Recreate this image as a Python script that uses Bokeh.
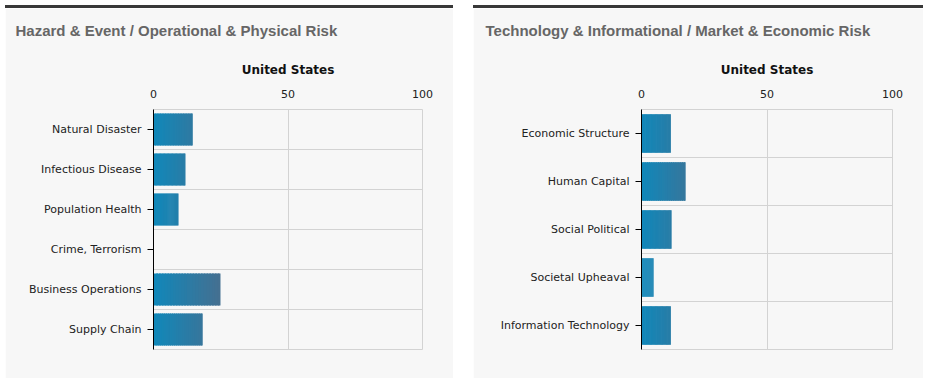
from bokeh.plotting import figure
from bokeh.models import Range1d, FixedTicker, Title, Div
from bokeh.layouts import row, column
from bokeh.embed import file_html
from bokeh.resources import INLINE

# ---------------- data ----------------
country = "United States"
x_ticks = [0, 50, 100]

left_title = "Hazard & Event / Operational & Physical Risk"
left_categories = ["Natural Disaster", "Infectious Disease", "Population Health",
                   "Crime, Terrorism", "Business Operations", "Supply Chain"]
left_values = [14.6, 11.9, 9.3, 0.0, 24.9, 18.3]

right_title = "Technology & Informational / Market & Economic Risk"
right_categories = ["Economic Structure", "Human Capital", "Social Political",
                    "Societal Upheaval", "Information Technology"]
right_values = [11.7, 17.6, 12.0, 4.8, 11.7]

# ---------------- styles ----------------
BG = "#f7f7f7"
C0 = (16, 136, 186)
C1 = (80, 106, 136)
GRAD_SPAN = 30.0
N_SLICES = 24


def grad_color(x):
    t = max(0.0, min(1.0, x / GRAD_SPAN))
    r, g, b = (round(a + (b_ - a) * t) for a, b_ in zip(C0, C1))
    return "#%02x%02x%02x" % (r, g, b)


def make_panel(title, cats, vals, fig_w, frame_left, title_x):
    n = len(cats)
    centers = [n - i - 0.5 for i in range(n)]
    frame_right_border = 31
    p = figure(frame_width=fig_w - frame_left - frame_right_border, frame_height=240,
               x_range=Range1d(0, 100), y_range=Range1d(0, n),
               x_axis_location="above", output_backend="svg", toolbar_location=None,
               min_border_left=frame_left, min_border_right=frame_right_border,
               min_border_top=101, min_border_bottom=29,
               background_fill_color=BG, border_fill_color=BG,
               outline_line_color="#d3d3d3", title=title)

    # gradient bars, built as overlapping thin slices of each bar
    ys, lefts, rights, colors = [], [], [], []
    for yc, v in zip(centers, vals):
        if v <= 0:
            continue
        for k in range(N_SLICES):
            l = v * k / N_SLICES
            r = min(v, v * (k + 1.6) / N_SLICES)
            ys.append(yc)
            lefts.append(l)
            rights.append(r)
            colors.append(grad_color(v * (k + 0.5) / N_SLICES))
    p.hbar(y=ys, left=lefts, right=rights, height=0.8,
           fill_color=colors, line_color=None)

    # title
    p.title.align = "left"
    p.title.offset = title_x - frame_left
    p.title.text_font = "Liberation Sans"
    p.title.text_font_size = "15px"
    p.title.text_font_style = "bold"
    p.title.text_color = "#666666"
    p.title.standoff = 23

    sub = Title(text=country, align="center", text_font="DejaVu Sans",
                text_font_size="12px", text_font_style="bold", text_color="#111111",
                standoff=20)
    p.add_layout(sub, "above")

    # top axis
    xa = p.xaxis[0]
    xa.ticker = FixedTicker(ticks=x_ticks)
    xa.axis_line_color = None
    xa.major_tick_line_color = None
    xa.minor_tick_line_color = None
    xa.major_label_standoff = 6
    xa.major_label_text_font = "DejaVu Sans"
    xa.major_label_text_font_size = "11px"
    xa.major_label_text_color = "#222222"

    # left axis
    ya = p.yaxis[0]
    ya.ticker = FixedTicker(ticks=centers)
    ya.major_label_overrides = {c: name for c, name in zip(centers, cats)}
    ya.axis_line_color = "#000000"
    ya.major_tick_line_color = "#000000"
    ya.major_tick_out = 6
    ya.major_tick_in = 0
    ya.minor_tick_line_color = None
    ya.major_label_standoff = 6
    ya.major_label_text_font = "DejaVu Sans"
    ya.major_label_text_font_size = "11px"
    ya.major_label_text_color = "#222222"

    # grids
    p.xgrid.ticker = FixedTicker(ticks=x_ticks)
    p.xgrid.grid_line_color = "#d3d3d3"
    p.ygrid.ticker = FixedTicker(ticks=list(range(n + 1)))
    p.ygrid.grid_line_color = "#d3d3d3"

    strip = Div(text="", width=fig_w, height=3, margin=(0, 0, 0, 0),
                styles={"background-color": "#383838"})
    return column(strip, p, spacing=0)


left_panel = make_panel(left_title, left_categories, left_values, 448, 148, 10)
right_panel = make_panel(right_title, right_categories, right_values, 450, 168, 12)

layout = row(left_panel, right_panel, spacing=20,
             styles={"margin-left": "5px", "margin-top": "5px"})

open("out.html", "w").write(file_html(layout, INLINE))
